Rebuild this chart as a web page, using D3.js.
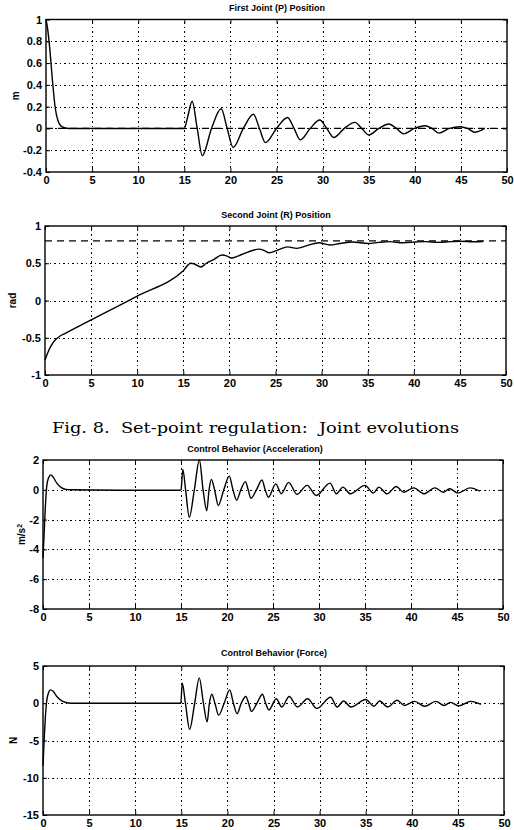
<!DOCTYPE html>
<html>
<head>
<meta charset="utf-8">
<script src="https://cdn.jsdelivr.net/npm/d3@7/dist/d3.min.js"></script>
<style>
body { margin: 0; background: #fff; }
svg { display: block; }
.lab text { font-family: "Liberation Sans", Arial, sans-serif; font-weight: bold; font-size: 11px; fill: #000; }
.grid line { stroke: #000; stroke-width: 1; stroke-dasharray: 1.5,3; shape-rendering: crispEdges; }
.tk line { stroke: #000; stroke-width: 1; }
</style>
</head>
<body>
<script>
// values (time in s)
var xTicks = [0, 5, 10, 15, 20, 25, 30, 35, 40, 45, 50];

var jointP = [[0,1.0],[0.2,0.9],[0.4,0.74],[0.7,0.44],[1.0,0.19],[1.3,0.07],[1.6,0.025],[2.0,0.006],[2.5,0],[15,0],
  [15.35,0.1],[15.85,0.25],[16.4,0],[16.95,-0.25],[17.95,0],[19.0,0.18],[19.65,0],[20.3,-0.175],[21.4,0],[22.5,0.13],
  [23.15,0],[23.8,-0.13],[25.0,0],[26.2,0.1],[26.9,0],[27.6,-0.105],[28.65,0],[29.7,0.077],[30.45,0],[31.2,-0.083],
  [32.35,0],[33.5,0.056],[34.25,0],[35.0,-0.06],[36.1,0],[37.2,0.04],[38.0,0],[38.8,-0.05],[39.95,0],[41.1,0.025],
  [41.85,0],[42.6,-0.043],[43.75,0],[44.9,0.016],[45.7,0],[46.5,-0.035],[47.5,-0.005]];

var jointR = [[0,-0.8],[0.3,-0.7],[0.7,-0.6],[1.1,-0.53],[1.6,-0.48],[2.2,-0.44],[5,-0.26],[10,0.06],[15,0.4],
  [15.8,0.5],[16.2,0.49],[16.9,0.45],[17.5,0.5],[18.3,0.55],[19.2,0.61],[19.7,0.6],[20.2,0.57],[21,0.6],[22,0.65],
  [23.2,0.69],[23.8,0.67],[24.3,0.64],[25.3,0.68],[26.3,0.72],[27.3,0.7],[28.5,0.74],[29.7,0.775],[30.9,0.745],
  [32,0.765],[33.3,0.785],[35.1,0.765],[36.2,0.78],[37.4,0.79],[38.8,0.775],[40.2,0.785],[41.3,0.79],[42.6,0.78],
  [44,0.79],[45,0.795],[46.5,0.788],[47.5,0.792]];

var accel = [[0,-4.6],[0.12,-3],[0.25,-1.2],[0.4,0.2],[0.6,0.8],[0.85,1.0],[1.1,0.85],[1.5,0.45],[2.0,0.15],[2.5,0.03],
  [3,0],[10,-0.03],[14.9,-0.03],[15,0],[15.2,1.37],[15.5,0],[15.9,-1.85],[16.45,0],[17.0,2.0],[17.4,0],[17.8,-1.4],
  [18.05,0],[18.3,0.7],[18.65,0],[19.05,-1.05],[19.65,0],[20.25,0.92],[20.65,0],[21.05,-0.7],[21.5,0],[22.0,0.55],
  [22.3,0],[22.6,-0.57],[23.2,0],[23.8,0.66],[24.15,0],[24.5,-0.5],[25.3,0.4],[25.9,-0.27],[26.7,0.5],[27.6,-0.3],
  [28.7,0.3],[29.7,-0.38],[31.2,0.45],[31.9,-0.27],[32.6,0.18],[33.4,-0.27],[35.0,0.3],[35.9,-0.22],[36.5,0.18],
  [37.4,-0.27],[38.4,0.22],[39.2,-0.16],[40.3,0.13],[41.4,-0.27],[42.6,0.13],[43.5,-0.16],[44.2,0.07],[45.1,-0.22],
  [46.4,0.13],[47.5,-0.09]];

var force = [[0,-8.4],[0.12,-5],[0.25,-2],[0.4,0.3],[0.6,1.4],[0.8,1.8],[1.1,1.6],[1.5,0.9],[2.0,0.35],[2.5,0.1],
  [3,0],[14.95,0],[15.1,2.7],[15.45,0],[15.9,-3.5],[16.45,0],[16.95,3.4],[17.4,0],[17.8,-2.5],[18.05,0],[18.3,1.2],
  [18.65,0],[19.05,-1.6],[19.65,0],[20.25,1.8],[20.65,0],[21.05,-1.4],[21.5,0],[22.0,0.9],[22.3,0],[22.6,-1.1],
  [23.2,0],[23.8,1.2],[24.15,0],[24.5,-0.9],[25.3,0.6],[25.9,-0.5],[26.7,0.9],[27.6,-0.5],[28.7,0.6],[29.7,-0.7],
  [31.2,0.8],[31.9,-0.5],[32.6,0.3],[33.4,-0.5],[35.0,0.5],[35.9,-0.4],[36.5,0.3],[37.4,-0.5],[38.4,0.4],[39.2,-0.3],
  [40.3,0.25],[41.4,-0.4],[42.6,0.25],[43.5,-0.3],[44.2,0.12],[45.1,-0.35],[46.4,0.25],[47.5,-0.15]];

var yTicksP = [-0.4, -0.2, 0, 0.2, 0.4, 0.6, 0.8, 1];
var yTicksR = [-1, -0.5, 0, 0.5, 1];
var yTicksA = [-8, -6, -4, -2, 0, 2];
var yTicksF = [-15, -10, -5, 0, 5];

var setP = 0, setR = 0.8;   // dashed set-point lines

var titles = ["First Joint (P) Position", "Second Joint (R) Position",
              "Control Behavior (Acceleration)", "Control Behavior (Force)"];
var yLabels = ["m", "rad", "m/s", "N"];
var caption = "Fig. 8.  Set-point regulation:  Joint evolutions";

var svg = d3.select("body").append("svg").attr("width", 514).attr("height", 830);

var panels = [
  {data: jointP, yt: yTicksP, l: 46, r: 507, t: 19.5, b: 172, tx: 277, ty: 11, lx: 15, ref: setP},
  {data: jointR, yt: yTicksR, l: 45, r: 506, t: 226, b: 375, tx: 276, ty: 218, lx: 12, ref: setR},
  {data: accel,  yt: yTicksA, l: 43, r: 503, t: 460, b: 609, tx: 255, ty: 452, lx: 21, sup: true},
  {data: force,  yt: yTicksF, l: 43, r: 504, t: 666, b: 815, tx: 274, ty: 656, lx: 13}
];

panels.forEach(function(p, i) {
  var x = d3.scaleLinear().domain([0, 50]).range([p.l, p.r]);
  var y = d3.scaleLinear().domain(d3.extent(p.yt)).range([p.b, p.t]);
  var w = p.r - p.l, h = p.b - p.t;
  var fmt = function(d) { return String(d); };

  // dotted grid
  svg.append("g").attr("class", "grid").attr("transform", "translate(0," + p.b + ")")
    .call(d3.axisBottom(x).tickValues(xTicks.slice(1, -1)).tickSize(-h).tickFormat(""))
    .call(function(g) { g.select(".domain").remove(); });
  svg.append("g").attr("class", "grid").attr("transform", "translate(" + p.l + ",0)")
    .call(d3.axisLeft(y).tickValues(p.yt.slice(1, -1)).tickSize(-w).tickFormat(""))
    .call(function(g) { g.select(".domain").remove(); });

  // small inward ticks on all four sides
  [[d3.axisBottom(x).tickValues(xTicks), "translate(0," + p.b + ")"],
   [d3.axisTop(x).tickValues(xTicks), "translate(0," + p.t + ")"],
   [d3.axisLeft(y).tickValues(p.yt), "translate(" + p.l + ",0)"],
   [d3.axisRight(y).tickValues(p.yt), "translate(" + p.r + ",0)"]].forEach(function(a) {
    svg.append("g").attr("class", "tk").attr("transform", a[1])
      .call(a[0].tickSize(-4).tickFormat(""))
      .call(function(g) { g.select(".domain").remove(); });
  });

  // tick labels
  svg.append("g").attr("class", "lab").attr("transform", "translate(0," + p.b + ")")
    .call(d3.axisBottom(x).tickValues(xTicks).tickSize(0).tickPadding(4).tickFormat(fmt))
    .call(function(g) { g.select(".domain").remove(); });
  svg.append("g").attr("class", "lab").attr("transform", "translate(" + p.l + ",0)")
    .call(d3.axisLeft(y).tickValues(p.yt).tickSize(0).tickPadding(4).tickFormat(fmt))
    .call(function(g) { g.select(".domain").remove(); });

  // set-point reference
  if (p.ref !== undefined) {
    svg.append("line")
      .attr("x1", x(0)).attr("x2", x(50)).attr("y1", y(p.ref)).attr("y2", y(p.ref))
      .attr("stroke", "#000").attr("stroke-width", 1.2).attr("stroke-dasharray", "7,5");
  }

  // curve
  var line = d3.line().x(function(d) { return x(d[0]); }).y(function(d) { return y(d[1]); })
    .curve(d3.curveMonotoneX);
  svg.append("path").datum(p.data).attr("d", line)
    .attr("fill", "none").attr("stroke", "#000").attr("stroke-width", 1.4).attr("stroke-linejoin", "round");

  // frame
  svg.append("rect").attr("x", p.l).attr("y", p.t).attr("width", w).attr("height", h)
    .attr("fill", "none").attr("stroke", "#000").attr("stroke-width", 1.4);

  // title
  svg.append("text").attr("x", p.tx).attr("y", p.ty).attr("text-anchor", "middle")
    .style("font-family", "'Liberation Sans', Arial, sans-serif").style("font-weight", "bold")
    .style("font-size", "9px").text(titles[i]);

  // y label
  var yl = svg.append("text")
    .attr("transform", "translate(" + p.lx + "," + ((p.t + p.b) / 2) + ") rotate(-90)")
    .attr("text-anchor", "middle").attr("dy", "0.35em")
    .style("font-family", "'Liberation Sans', Arial, sans-serif").style("font-weight", "bold")
    .style("font-size", "10px").text(yLabels[i]);
  if (p.sup) yl.append("tspan").attr("baseline-shift", "super").style("font-size", "7px").text("2");
});

svg.append("text").attr("x", 52).attr("y", 433)
  .attr("textLength", 407).attr("lengthAdjust", "spacingAndGlyphs")
  .style("font-family", "'DejaVu Serif', 'Liberation Serif', serif")
  .style("font-size", "15px").style("white-space", "pre")
  .text(caption);
</script>
</body>
</html>
